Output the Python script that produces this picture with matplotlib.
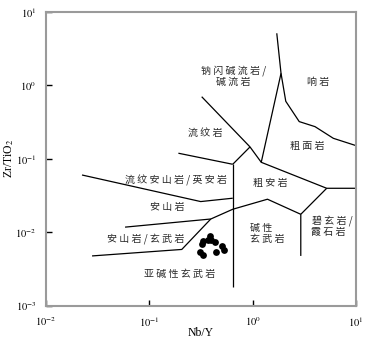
import matplotlib
matplotlib.use("Agg")
import matplotlib.pyplot as plt
import numpy as np

plt.rcParams.update({
    "font.family": ["Noto Sans CJK SC", "DejaVu Sans"],
    "mathtext.fontset": "stix",
})

# Boundary vertices (Nb/Y, Zr/TiO2)
PTS = {
    "A": (1.71, 5.13), "B": (1.88, 1.46), "C": (2.09, 0.607), "D": (2.82, 0.321),
    "E": (4.01, 0.274), "F": (6.03, 0.190), "G": (10.0, 0.151),
    "H": (1.21, 0.0895), "I": (5.20, 0.0396), "J": (10.0, 0.0396),
    "K": (2.92, 0.0175), "L": (2.92, 0.00474), "M": (1.39, 0.0281),
    "N": (0.641, 0.0205), "O": (0.393, 0.0151), "P": (0.206, 0.00581),
    "Q": (0.0279, 0.00474), "R": (0.0582, 0.0117), "S": (0.0223, 0.0601),
    "T": (0.314, 0.0261), "U": (0.641, 0.0290), "V": (0.191, 0.119),
    "W": (0.641, 0.0841), "X": (0.942, 0.145), "Y": (0.321, 0.701),
    "Z": (0.641, 0.00181),
}
LINES = ["ABCDEFG", "BH", "YXHIJ", "IKL", "VW", "WX", "WZ", "STU", "RONMK", "QPO"]

# Sample points
nb_y = [0.382, 0.370, 0.395, 0.334, 0.324, 0.433, 0.309, 0.327, 0.442, 0.505, 0.528]
zr_ti = [0.00887, 0.00783, 0.00783, 0.00759, 0.00679, 0.00724, 0.00529, 0.00489,
         0.00537, 0.00638, 0.00572]

LABELS = [
    ("钠闪碱流岩/", 0.653, 1.57),
    ("碱流岩", 0.646, 1.11),
    ("响岩", 4.29, 1.11),
    ("粗面岩", 3.36, 0.149),
    ("流纹岩", 0.346, 0.224),
    ("流纹安山岩/英安岩", 0.181, 0.0514),
    ("粗安岩", 1.47, 0.0468),
    ("安山岩", 0.148, 0.0220),
    ("安山岩/玄武岩", 0.0929, 0.00807),
    ("亚碱性玄武岩", 0.198, 0.00270),
    ("碱性", 1.20, 0.0114),
    ("玄武岩", 1.38, 0.00807),
    ("碧玄岩/", 5.86, 0.0138),
    ("霞石岩", 5.42, 0.0101),
]

fig = plt.figure(figsize=(3.79, 3.46), dpi=100)
ax = fig.add_axes([0.1214, 0.117, 0.818, 0.8483])
ax.set_xscale("log")
ax.set_yscale("log")
ax.set_xlim(1e-2, 1e1)
ax.set_ylim(1e-3, 1e1)

for seq in LINES:
    xs = [PTS[c][0] for c in seq]
    ys = [PTS[c][1] for c in seq]
    ax.plot(xs, ys, color="black", linewidth=0.9, solid_capstyle="butt")

ax.scatter(nb_y, zr_ti, s=24, color="black", zorder=5, linewidths=0)

# spread the characters like the original typesetting
for txt, x, y in LABELS:
    ax.text(x, y, " ".join(txt), ha="center", va="center", fontsize=7.2,
            color="#2a2a2a")

decades = [1e-2, 1e-1, 1e0, 1e1]
ax.set_xticks(decades)
ax.set_xticklabels([r"$\mathrm{10^{%d}}$" % int(np.log10(v)) for v in decades])
ydec = [1e-3, 1e-2, 1e-1, 1e0, 1e1]
ax.set_yticks(ydec)
ax.set_yticklabels([r"$\mathrm{10^{%d}}$" % int(np.log10(v)) for v in ydec])
ax.minorticks_off()
ax.tick_params(direction="in", length=4, width=1, labelsize=7.5, pad=7, colors="black")

for sp in ax.spines.values():
    sp.set_color("#9a9a9a")
    sp.set_linewidth(1.5)

ax.set_xlabel("Nb/Y", family="Liberation Serif", fontsize=8.5)
ax.set_ylabel(r"Zr/TiO$_\mathrm{2}$", family="Liberation Serif", fontsize=8.5)
ax.xaxis.set_label_coords(0.5, -0.074)
ax.yaxis.set_label_coords(-0.098, 0.5)

fig.savefig("out.png", dpi=100)
